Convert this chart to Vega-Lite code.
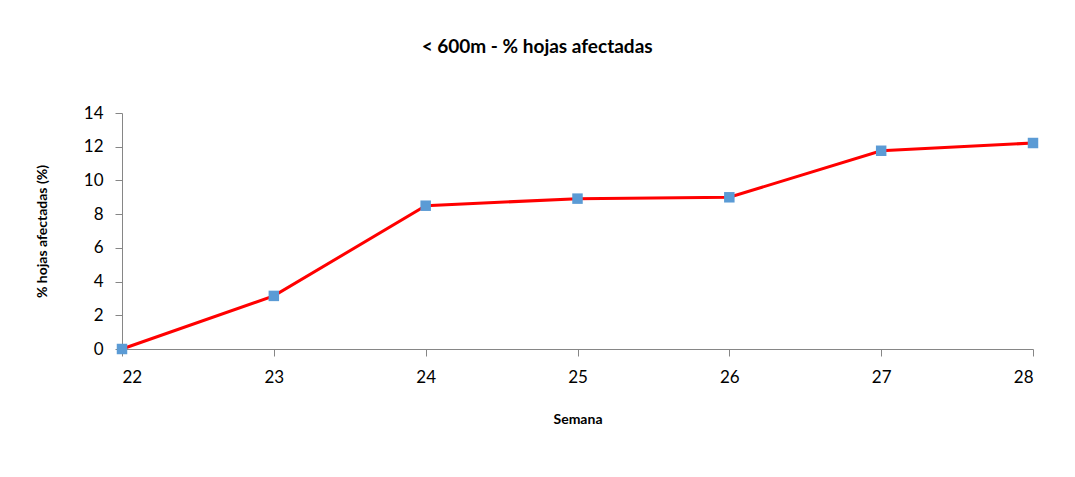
{
  "$schema": "https://vega.github.io/schema/vega-lite/v6.json",
  "width": 911,
  "height": 236,
  "autosize": {"type": "none"},
  "padding": {"left": 122, "top": 113, "right": 42, "bottom": 128},
  "background": "white",
  "title": {
    "text": "< 600m - % hojas afectadas",
    "font": "Lato",
    "fontSize": 19,
    "fontWeight": "bold",
    "color": "#000000",
    "frame": "bounds",
    "anchor": "middle",
    "offset": 47
  },
  "data": {
    "values": [
      {"semana": 22, "pct": 0},
      {"semana": 23, "pct": 3.15},
      {"semana": 24, "pct": 8.5},
      {"semana": 25, "pct": 8.92},
      {"semana": 26, "pct": 9.0},
      {"semana": 27, "pct": 11.76},
      {"semana": 28, "pct": 12.22}
    ]
  },
  "encoding": {
    "x": {
      "field": "semana",
      "type": "quantitative",
      "title": "Semana",
      "scale": {"domain": [22, 28], "nice": false, "zero": false},
      "axis": {
        "values": [22, 23, 24, 25, 26, 27, 28],
        "format": "d",
        "grid": false,
        "domainColor": "#868686",
        "tickColor": "#868686",
        "tickSize": 7,
        "labelFont": "Lato",
        "labelFontSize": 17,
        "labelColor": "#000000",
        "labelPadding": 13,
        "titleFont": "Lato",
        "titleFontSize": 14,
        "titleFontWeight": "bold",
        "titleColor": "#000000",
        "titlePadding": 27
      }
    },
    "y": {
      "field": "pct",
      "type": "quantitative",
      "title": "% hojas afectadas (%)",
      "scale": {"domain": [0, 14], "nice": false},
      "axis": {
        "values": [0, 2, 4, 6, 8, 10, 12, 14],
        "grid": false,
        "domainColor": "#868686",
        "tickColor": "#868686",
        "tickSize": 7,
        "labelFont": "Lato",
        "labelFontSize": 17,
        "labelColor": "#000000",
        "labelPadding": 12,
        "titleFont": "Lato",
        "titleFontSize": 14,
        "titleFontWeight": "bold",
        "titleColor": "#000000",
        "titlePadding": 34
      }
    }
  },
  "layer": [
    {"mark": {"type": "line", "color": "#ff0000", "strokeWidth": 3}},
    {"mark": {"type": "point", "shape": "square", "filled": true, "color": "#5b9bd5", "size": 110, "opacity": 1}}
  ],
  "config": {"view": {"stroke": null}}
}
